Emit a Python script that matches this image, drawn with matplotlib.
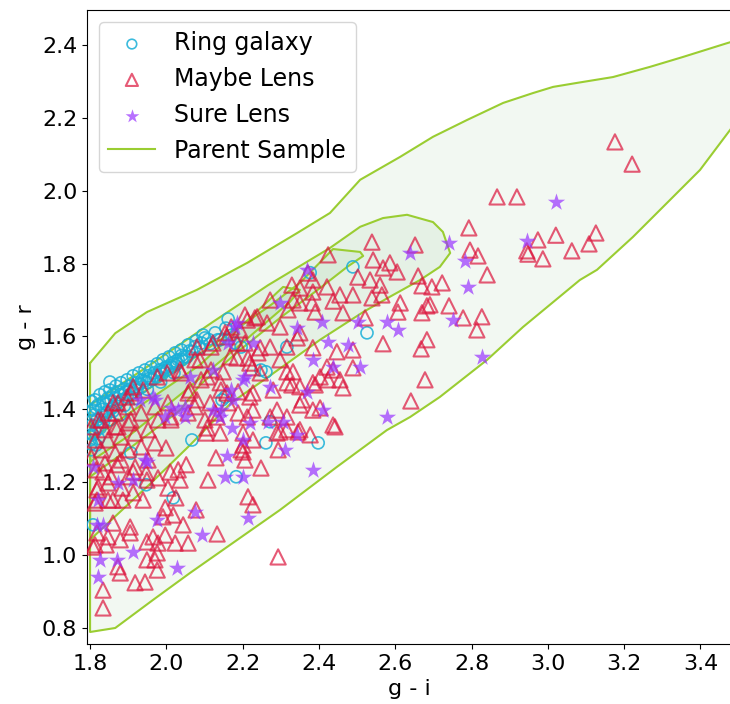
import numpy as np
import matplotlib.pyplot as plt

# ---------------------------------------------------------------
# data (g - i, g - r)
# ---------------------------------------------------------------
ring_pts = [
    (1.808, 1.398), (1.813, 1.426), (1.821, 1.412), (1.826, 1.440), (1.834, 1.420),
    (1.839, 1.448), (1.847, 1.431), (1.852, 1.453), (1.860, 1.440), (1.868, 1.464),
    (1.873, 1.448), (1.881, 1.473), (1.889, 1.456), (1.897, 1.481), (1.905, 1.464),
    (1.913, 1.492), (1.921, 1.473), (1.928, 1.500), (1.936, 1.481), (1.944, 1.508),
    (1.952, 1.492), (1.960, 1.516), (1.968, 1.500), (1.976, 1.525), (1.983, 1.508),
    (1.991, 1.536), (1.999, 1.516), (2.007, 1.544), (2.015, 1.527), (2.023, 1.555),
    (2.031, 1.536), (2.039, 1.563), (2.046, 1.544), (2.057, 1.577), (2.067, 1.558),
    (2.078, 1.588), (2.088, 1.569), (2.101, 1.596), (2.115, 1.580), (2.128, 1.610),
    (2.141, 1.591), (2.156, 1.623), (2.172, 1.604),
    (1.805, 1.357), (1.818, 1.371), (1.831, 1.385), (1.845, 1.393), (1.858, 1.404),
    (1.871, 1.418), (1.884, 1.426), (1.897, 1.434), (1.910, 1.445), (1.923, 1.453),
    (1.936, 1.462), (1.949, 1.473), (1.962, 1.481), (1.976, 1.489), (1.989, 1.497),
    (2.002, 1.508), (2.015, 1.516), (2.028, 1.525), (2.041, 1.536), (2.054, 1.544),
    (1.800, 1.316), (1.813, 1.338), (1.826, 1.349), (1.803, 1.289), (1.816, 1.302),
    (1.852, 1.371), (1.879, 1.385),
    (1.815, 1.405), (1.830, 1.400), (1.842, 1.415), (1.855, 1.425), (1.865, 1.430),
    (1.878, 1.440), (1.892, 1.447), (1.903, 1.455), (1.917, 1.462), (1.930, 1.470),
    (1.942, 1.478), (1.956, 1.485), (1.970, 1.493), (1.985, 1.503), (1.995, 1.512),
    (2.010, 1.520), (2.025, 1.532), (2.040, 1.548), (2.060, 1.560), (2.075, 1.572),
    (2.092, 1.582), (2.110, 1.592), (1.806, 1.370), (1.812, 1.385), (1.820, 1.350),
    (1.835, 1.365), (1.808, 1.330), (1.822, 1.320), (1.803, 1.305), (1.840, 1.380),
    (1.860, 1.395), (1.890, 1.410), (1.920, 1.430), (1.950, 1.455), (1.985, 1.475),
    (2.020, 1.500),
    (1.852, 1.475), (1.805, 1.421), (1.808, 1.083), (2.398, 1.308), (2.526, 1.610),
    (2.489, 1.791), (2.377, 1.775), (2.162, 1.648), (2.261, 1.503), (2.316, 1.571),
    (2.272, 1.366), (2.261, 1.308), (2.067, 1.316), (1.947, 1.193), (2.018, 1.157),
    (2.183, 1.215), (1.907, 1.280), (2.146, 1.426), (2.096, 1.604), (2.135, 1.591),
    (2.180, 1.582), (2.196, 1.571), (2.248, 1.508), (2.154, 1.434),
]

maybe_pts = [
    (3.176, 2.134), (3.221, 2.073), (2.867, 1.983), (2.919, 1.983),
    (2.793, 1.898), (2.796, 1.837), (2.817, 1.821), (2.841, 1.769),
    (2.652, 1.851), (2.660, 1.766), (2.723, 1.747), (2.696, 1.736), (2.670, 1.739),
    (2.945, 1.835), (2.948, 1.826), (2.974, 1.865), (2.987, 1.813), (3.021, 1.878),
    (3.063, 1.835), (3.108, 1.854), (3.126, 1.884),
    (2.683, 1.684), (2.670, 1.665), (2.741, 1.684), (2.778, 1.651), (2.827, 1.654),
    (2.814, 1.618), (2.683, 1.591), (2.668, 1.566), (2.678, 1.481), (2.641, 1.423),
    (2.607, 1.667), (2.691, 1.687), (2.568, 1.580), (2.613, 1.692),
    (2.539, 1.859), (2.424, 1.824), (2.542, 1.810), (2.568, 1.788), (2.586, 1.802),
    (2.605, 1.777), (2.502, 1.763), (2.534, 1.755), (2.560, 1.741), (2.565, 1.714),
    (2.539, 1.706), (2.489, 1.714), (2.455, 1.714), (2.421, 1.736), (2.384, 1.722),
    (2.350, 1.733), (2.329, 1.741), (2.371, 1.774), (2.384, 1.755), (2.463, 1.665),
    (2.521, 1.651),
    (2.390, 1.667), (2.350, 1.692), (2.319, 1.673), (2.272, 1.700), (2.238, 1.654),
    (2.264, 1.637), (2.298, 1.626), (2.343, 1.596), (2.316, 1.571), (2.298, 1.536),
    (2.332, 1.503), (2.316, 1.473), (2.350, 1.462), (2.384, 1.473), (2.403, 1.489),
    (2.455, 1.481), (2.489, 1.563), (2.447, 1.558), (2.421, 1.516), (2.212, 1.645),
    (2.193, 1.618), (2.159, 1.599), (2.122, 1.582), (2.080, 1.571), (2.088, 1.536),
    (2.036, 1.508), (2.002, 1.500), (1.976, 1.489), (1.939, 1.453), (1.913, 1.462),
    (1.897, 1.434), (1.860, 1.418), (2.185, 1.541), (2.149, 1.503), (2.107, 1.489),
    (2.062, 1.453), (2.080, 1.426), (2.141, 1.473), (2.159, 1.445), (2.227, 1.445),
    (2.280, 1.453), (2.246, 1.500), (2.219, 1.527), (2.272, 1.571),
    (2.489, 1.514), (2.437, 1.508), (2.463, 1.459), (2.424, 1.481), (2.390, 1.467),
    (2.329, 1.467), (2.356, 1.426), (2.290, 1.398), (2.403, 1.404), (2.442, 1.352),
    (2.377, 1.330), (2.350, 1.344), (2.316, 1.344), (2.290, 1.335), (2.272, 1.379),
    (2.227, 1.398), (2.212, 1.379), (2.219, 1.434), (2.188, 1.448), (2.115, 1.418),
    (2.133, 1.379), (2.107, 1.349), (2.201, 1.335), (2.227, 1.316), (2.201, 1.283),
    (2.293, 1.289), (2.382, 1.692), (2.332, 1.700), (2.437, 1.697), (2.350, 1.610),
    (2.384, 1.569), (2.316, 1.503), (2.246, 1.569), (2.214, 1.541), (2.225, 1.514),
    (2.167, 1.544), (2.185, 1.582),
    (2.075, 1.407), (2.104, 1.335), (2.141, 1.335), (2.130, 1.267), (2.196, 1.289),
    (2.206, 1.261), (2.248, 1.239), (2.109, 1.206), (2.052, 1.248), (2.031, 1.234),
    (2.036, 1.206), (2.010, 1.228), (2.004, 1.184), (2.025, 1.157), (1.997, 1.130),
    (2.018, 1.110), (1.991, 1.105), (2.044, 1.083), (2.078, 1.124), (2.057, 1.033),
    (2.023, 1.033), (1.978, 1.033), (1.965, 1.050), (1.949, 1.036), (1.976, 1.006),
    (1.949, 0.987), (1.970, 0.987), (1.976, 0.959), (1.944, 0.926), (1.918, 0.924),
    (2.133, 1.058), (2.214, 1.160), (2.227, 1.138), (2.293, 0.995), (1.905, 1.061),
    (1.879, 1.042), (1.873, 0.968), (1.879, 0.951), (1.834, 0.904), (1.834, 0.855),
    (1.818, 1.061), (1.808, 1.022), (1.905, 1.077), (1.860, 1.088), (1.860, 1.151),
    (1.886, 1.151), (1.884, 1.184), (1.847, 1.198), (1.818, 1.151), (1.818, 1.179),
    (1.834, 1.228), (1.871, 1.248), (1.913, 1.228), (1.949, 1.206), (1.913, 1.171),
    (1.939, 1.151), (2.201, 1.302), (2.298, 1.338), (2.345, 1.338), (2.437, 1.357),
    (2.316, 1.379), (2.350, 1.412), (2.384, 1.398), (1.842, 1.028), (1.997, 1.055),
    (1.847, 1.050), (1.813, 1.028),
    (2.039, 1.500), (1.907, 1.445), (1.873, 1.418), (1.847, 1.390), (1.821, 1.371),
    (2.075, 1.536), (2.117, 1.571), (2.117, 1.508), (2.091, 1.481), (2.057, 1.445),
    (2.004, 1.418), (1.970, 1.407), (1.934, 1.390), (1.900, 1.363), (1.866, 1.352),
    (2.057, 1.390), (2.012, 1.371), (2.143, 1.453), (2.162, 1.418), (2.188, 1.390),
    (2.128, 1.390), (2.101, 1.371), (2.206, 1.659), (2.232, 1.651), (2.170, 1.626),
    (2.154, 1.610), (2.206, 1.582), (2.240, 1.555),
    (1.900, 1.407), (1.866, 1.390), (1.829, 1.371), (1.803, 1.352), (1.839, 1.344),
    (1.873, 1.352), (1.907, 1.371), (1.813, 1.316), (1.847, 1.316), (1.881, 1.324),
    (1.918, 1.335), (1.952, 1.344), (1.978, 1.371), (2.012, 1.379), (1.829, 1.289),
    (1.866, 1.280), (1.900, 1.289), (1.934, 1.297), (1.970, 1.308), (1.999, 1.294),
    (1.803, 1.269), (1.839, 1.253), (1.881, 1.261), (1.918, 1.242), (1.952, 1.261),
    (1.816, 1.234), (1.855, 1.215), (1.900, 1.215), (1.821, 1.187), (1.847, 1.151),
    (1.813, 1.143), (1.947, 1.226), (1.978, 1.212),
]

sure_pts = [
    (3.021, 1.969), (2.741, 1.857), (2.945, 1.862), (2.639, 1.829), (2.783, 1.807),
    (2.791, 1.736), (2.751, 1.645), (2.827, 1.544), (2.607, 1.618), (2.578, 1.640),
    (2.578, 1.379), (2.369, 1.783), (2.298, 1.692), (2.185, 1.637), (2.227, 1.582),
    (2.343, 1.623), (2.408, 1.640), (2.502, 1.640), (2.424, 1.585), (2.476, 1.577),
    (2.384, 1.536), (2.437, 1.516), (2.508, 1.516), (2.272, 1.462), (2.201, 1.481),
    (2.369, 1.448), (2.122, 1.508), (2.062, 1.489), (1.965, 1.434), (1.931, 1.426),
    (2.175, 1.426), (2.122, 1.398), (2.141, 1.379), (2.172, 1.349), (2.219, 1.363),
    (2.267, 1.366), (2.306, 1.366), (2.343, 1.330), (2.411, 1.398), (2.311, 1.289),
    (2.159, 1.272), (2.154, 1.215), (2.201, 1.215), (2.214, 1.102), (2.075, 1.119),
    (2.094, 1.055), (1.976, 1.097), (1.913, 1.009), (2.028, 0.965), (1.821, 0.940),
    (1.826, 0.987), (1.871, 0.987), (1.818, 1.083), (1.834, 1.083), (1.913, 1.206),
    (1.949, 1.256), (2.384, 1.234), (2.201, 1.316),
    (2.180, 1.626), (2.162, 1.582), (2.206, 1.489), (2.170, 1.453), (1.970, 1.426),
    (2.031, 1.398), (2.049, 1.379), (2.143, 1.398), (1.997, 1.379),
    (2.012, 1.404), (2.049, 1.407), (1.944, 1.261), (1.873, 1.198), (1.821, 1.151),
    (1.808, 1.242),
]

# parent sample density contours, outermost first
contour_levels = [
    [(1.800, 1.527), (1.866, 1.609), (1.949, 1.667), (2.080, 1.728), (2.212, 1.802),
     (2.343, 1.884), (2.429, 1.939), (2.508, 2.030), (2.613, 2.093), (2.699, 2.148),
     (2.788, 2.194), (2.883, 2.241), (2.961, 2.268), (3.014, 2.285), (3.077, 2.296),
     (3.171, 2.312), (3.268, 2.340), (3.354, 2.367), (3.470, 2.405), (3.550, 2.430),
     (3.550, 2.267), (3.478, 2.167), (3.399, 2.057), (3.312, 1.966), (3.223, 1.873),
     (3.129, 1.783), (3.084, 1.755), (2.935, 1.626), (2.841, 1.536), (2.717, 1.434),
     (2.639, 1.379), (2.578, 1.343), (2.447, 1.242), (2.298, 1.124), (2.212, 1.061),
     (2.062, 0.951), (1.965, 0.877), (1.866, 0.800), (1.800, 0.789)],
    [(1.800, 1.412), (1.957, 1.522), (2.122, 1.640), (2.267, 1.741), (2.429, 1.843),
     (2.508, 1.901), (2.568, 1.925), (2.631, 1.934), (2.699, 1.914), (2.725, 1.887),
     (2.744, 1.829), (2.717, 1.791), (2.665, 1.755), (2.586, 1.709), (2.516, 1.667),
     (2.403, 1.591), (2.267, 1.489), (2.170, 1.418), (2.062, 1.302), (1.960, 1.198),
     (1.879, 1.119), (1.800, 1.042)],
    [(1.800, 1.349), (1.957, 1.459), (2.122, 1.577), (2.267, 1.681), (2.350, 1.747),
     (2.437, 1.840), (2.508, 1.832), (2.516, 1.821), (2.474, 1.791), (2.403, 1.733),
     (2.298, 1.651), (2.193, 1.563), (2.088, 1.467), (2.036, 1.398), (1.905, 1.294),
     (1.800, 1.215)],
    [(1.800, 1.316), (2.088, 1.522), (2.306, 1.736), (2.350, 1.728), (2.324, 1.695),
     (2.193, 1.577), (2.036, 1.440), (1.905, 1.330), (1.800, 1.256)],
]

ring = np.array(ring_pts)
maybe = np.array(maybe_pts)
sure = np.array(sure_pts)

fig = plt.figure(figsize=(7.3, 7.04), dpi=100)
ax = fig.add_axes([0.1192, 0.0852, 0.8836, 0.9006])

ax.scatter(ring[:, 0], ring[:, 1], s=75, facecolors='none', edgecolors='#1ab0d8',
           linewidths=1.2, alpha=0.85, label='Ring galaxy', zorder=3)
ax.scatter(maybe[:, 0], maybe[:, 1], s=120, marker='^', facecolors='none',
           edgecolors='crimson', linewidths=1.5, alpha=0.7, label='Maybe Lens', zorder=4)
ax.scatter(sure[:, 0], sure[:, 1], s=170, marker='*', color='#9933ff',
           linewidths=0, alpha=0.7, label='Sure Lens', zorder=5)

for i, level in enumerate(contour_levels):
    pts = np.array(level + [level[0]])
    ax.fill(pts[:, 0], pts[:, 1], color='green', alpha=0.05, lw=0, zorder=1)
    ax.plot(pts[:, 0], pts[:, 1], color='yellowgreen', lw=1.5, zorder=2,
            label='Parent Sample' if i == 0 else None)

ax.set_xlim(1.792, 3.483)
ax.set_ylim(0.756, 2.496)
ax.set_xticks(np.arange(1.8, 3.41, 0.2))
ax.set_yticks(np.arange(0.8, 2.41, 0.2))
ax.tick_params(labelsize=16)
ax.set_xlabel('g - i', fontsize=16)
ax.set_ylabel('g - r', fontsize=16)

ax.legend(loc='upper left', fontsize=17, borderaxespad=0.5, markerscale=0.8)

fig.savefig('out.png', dpi=100)
